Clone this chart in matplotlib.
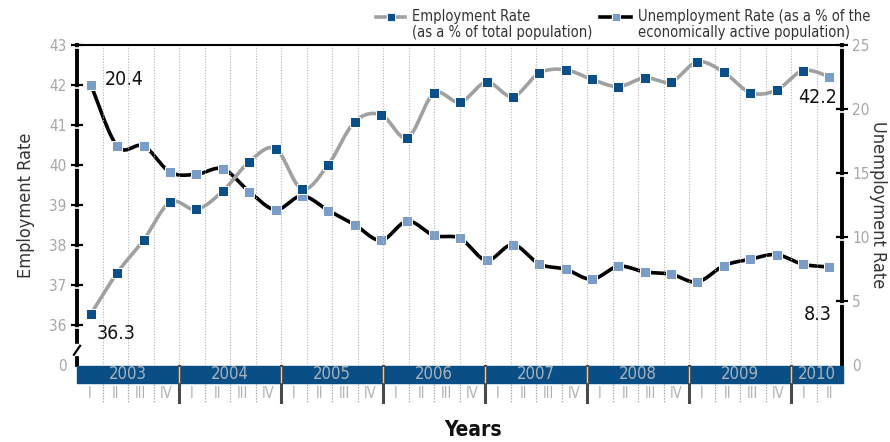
import numpy as np
import matplotlib
matplotlib.use("Agg")
import matplotlib.pyplot as plt
from matplotlib import font_manager
from matplotlib.transforms import blended_transform_factory, ScaledTranslation
from matplotlib.lines import Line2D

# ---------------- data ----------------
years = ['2003', '2004', '2005', '2006', '2007', '2008', '2009', '2010']
quarters_per_year = [4, 4, 4, 4, 4, 4, 4, 2]
quarter_names = ['I', 'II', 'III', 'IV']

employment = [36.28, 37.31, 38.13, 39.07, 38.89, 39.35, 40.08, 40.41, 39.40, 40.01,
              41.08, 41.26, 40.68, 41.79, 41.57, 42.07, 41.71, 42.30, 42.38, 42.14,
              41.96, 42.18, 42.08, 42.58, 42.32, 41.81, 41.87, 42.36, 42.21]
unemployment = [21.86, 17.08, 17.11, 15.06, 14.90, 15.32, 13.55, 12.13, 13.21, 12.07,
                10.96, 9.74, 11.24, 10.12, 9.89, 8.18, 9.40, 7.89, 7.48, 6.70,
                7.71, 7.27, 7.09, 6.49, 7.76, 8.26, 8.62, 7.87, 7.66]

left_ticks = [36, 37, 38, 39, 40, 41, 42, 43]
right_ticks = [0, 5, 10, 15, 20, 25]
annotations = ['20.4', '36.3', '42.2', '8.3']

# ---------------- fonts ----------------
names = {(f.name, f.stretch) for f in font_manager.fontManager.ttflist}
fams = {f.name for f in font_manager.fontManager.ttflist}
if 'Liberation Sans Narrow' in fams:
    FONT = dict(family='Liberation Sans Narrow')
elif any(n == 'DejaVu Sans' and s == 'condensed' for n, s in names):
    FONT = dict(family='DejaVu Sans', stretch='condensed')
else:
    FONT = dict(family='DejaVu Sans')
plt.rcParams['font.family'] = FONT['family']
if 'stretch' in FONT:
    plt.rcParams['font.stretch'] = FONT['stretch']

# ---------------- colours ----------------
C_GRAYLINE = '#a0a0a0'
C_DARKMK = '#0b4f8a'
C_LIGHTMK = '#7a9cc8'
C_BAND = '#0a4e86'
C_TICKTXT = '#a6a6a6'
C_TXT = '#333333'

W, H = 890, 442
fig = plt.figure(figsize=(W / 100, H / 100), dpi=100)
L, R, T, B = 77, 842, 45, 365
ax = fig.add_axes([L / W, 1 - B / H, (R - L) / W, (B - T) / H])
ax2 = ax.twinx()
ax.set_zorder(ax2.get_zorder() + 1)
ax.patch.set_visible(False)

nq = sum(quarters_per_year)
ax.set_xlim(0, nq)
ax.set_ylim(35.0, 43.0)
ax2.set_ylim(0, 25)


def smooth(x, y, n=16):
    pts = np.column_stack([x, y])
    P = np.vstack([pts[0], pts, pts[-1]])
    out = []
    t = np.linspace(0, 1, n, endpoint=False)[:, None]
    for i in range(1, len(P) - 2):
        p0, p1, p2, p3 = P[i - 1], P[i], P[i + 1], P[i + 2]
        seg = 0.5 * ((2 * p1) + (-p0 + p2) * t + (2 * p0 - 5 * p1 + 4 * p2 - p3) * t ** 2
                     + (-p0 + 3 * p1 - 3 * p2 + p3) * t ** 3)
        out.append(seg)
    out.append(pts[-1:])
    s = np.vstack(out)
    return s[:, 0], s[:, 1]


xe = np.linspace(0.55, nq - 0.5, len(employment))
xu = np.linspace(0.55, nq - 0.5, len(unemployment))

# gridlines
for k in range(1, nq):
    ax.axvline(k, color='#b5b5b5', lw=0.8, ls=(0, (1, 1.5)), zorder=0)

# unemployment (right axis)
sx, sy = smooth(xu, unemployment)
ax2.plot(sx, sy, color='black', lw=2.6, solid_capstyle='round', zorder=2)
ax2.plot(xu, unemployment, ls='none', marker='s', ms=6.5, mfc=C_LIGHTMK,
         mec='white', mew=0.7, zorder=3)

# employment (left axis)
sx, sy = smooth(xe, employment)
ax.plot(sx, sy, color=C_GRAYLINE, lw=2.6, solid_capstyle='round', zorder=2)
ax.plot(xe[:-1], employment[:-1], ls='none', marker='s', ms=6.5, mfc=C_DARKMK,
        mec='white', mew=0.7, zorder=3)
ax.plot(xe[-1:], employment[-1:], ls='none', marker='s', ms=6.5, mfc=C_LIGHTMK,
        mec='white', mew=0.7, zorder=3)

# annotations
ax2.text(xu[0] + 0.55, unemployment[0] + 0.45, annotations[0], fontsize=14,
         color='#111111', ha='left', va='center')
ax.text(xe[0] + 0.2, employment[0] - 0.5, annotations[1], fontsize=14,
        color='#111111', ha='left', va='center')
ax.text(xe[-1] + 0.3, employment[-1] - 0.52, annotations[2], fontsize=14,
        color='#111111', ha='right', va='center')
ax2.text(xu[-1] + 0.1, unemployment[-1] - 3.7, annotations[3], fontsize=14,
         color='#111111', ha='right', va='center')

# axes styling
for a in (ax, ax2):
    a.spines['bottom'].set_visible(False)
    a.set_xticks([])
ax.spines['right'].set_visible(False)
ax.spines['left'].set_linewidth(2.8)
ax.spines['top'].set_linewidth(1.5)
ax2.spines['left'].set_visible(False)
ax2.spines['top'].set_visible(False)
ax2.spines['right'].set_linewidth(2.8)

ax.set_yticks([35.0] + left_ticks)
ax.set_yticklabels(['0'] + [str(v) for v in left_ticks])
ax.tick_params(axis='y', direction='inout', length=9, width=1.6, colors='black',
               labelcolor=C_TICKTXT, labelsize=11, pad=3)
ax.yaxis.get_major_ticks()[0].tick1line.set_visible(False)
ax2.set_yticks(right_ticks)
ax2.set_yticklabels([str(v) for v in right_ticks])
ax2.tick_params(axis='y', direction='inout', length=9, width=1.6, colors='black',
                labelcolor=C_TICKTXT, labelsize=11, pad=3)
ax2.yaxis.get_major_ticks()[0].tick2line.set_visible(False)

# small white gaps under the ticks
down = ScaledTranslation(0, -2.2 / 72, fig.dpi_scale_trans)
trl = blended_transform_factory(ax.transAxes, ax.transData) + down
for v in left_ticks:
    ax.add_line(Line2D([-0.004, 0.004], [v, v], color='white', lw=1.2,
                       transform=trl, clip_on=False, zorder=10))
trr = blended_transform_factory(ax2.transAxes, ax2.transData) + down
for v in right_ticks[1:]:
    ax2.add_line(Line2D([0.996, 1.004], [v, v], color='white', lw=1.2,
                        transform=trr, clip_on=False, zorder=10))

# axis break on the left spine
tra = ax.transAxes
ax.add_patch(plt.Rectangle((-0.006, 0.03), 0.012, 0.035, transform=tra,
                           color='white', clip_on=False, zorder=11))
ax.add_line(Line2D([-0.004, 0.004], [0.032, 0.06], color='black', lw=1.6,
                   transform=tra, clip_on=False, zorder=12))

ax.set_ylabel('Employment Rate', fontsize=13, color=C_TXT, va='center')
ax.yaxis.set_label_coords((26 - L) / (R - L), 0.5)
ax2.set_ylabel('Unemployment Rate', fontsize=13, color=C_TXT, rotation=270,
               va='center')
ax2.yaxis.set_label_coords((878 - L) / (R - L), 0.5)

# bottom band with years and quarters
trb = blended_transform_factory(ax.transData, ax.transAxes)
band_top, band_bot = -0.003, -0.056
ax.add_patch(plt.Rectangle((0, band_bot), nq + 0.05, band_top - band_bot,
                           transform=trb, color=C_BAND, clip_on=False, zorder=5))
start = 0
for yr, nqy in zip(years, quarters_per_year):
    ax.text(start + nqy / 2, (band_top + band_bot) / 2, yr, transform=trb,
            ha='center', va='center', fontsize=12, color='#a9b3bd',
            zorder=6, clip_on=False)
    for q in range(nqy):
        ax.text(start + q + 0.5, -0.088, quarter_names[q], transform=trb,
                ha='center', va='center', fontsize=10.5, color='#b3b3b3',
                clip_on=False)
        if q > 0:
            ax.add_line(Line2D([start + q] * 2, [band_bot - 0.003, -0.117],
                               color='#9a9a9a', lw=0.9, ls=(0, (1, 1.2)),
                               transform=trb, clip_on=False))
    if start > 0:
        ax.add_line(Line2D([start, start], [band_top, -0.117], color='#4a4a4a',
                           lw=2.2, transform=trb, clip_on=False, zorder=7))
        ax.add_line(Line2D([start, start], [band_top - 0.004, band_bot + 0.004],
                           color='#c9d2dc', lw=0.9, transform=trb,
                           clip_on=False, zorder=8))
    start += nqy

fig.text(473 / W, 1 - 430 / H, 'Years', ha='center', va='center', fontsize=15,
         fontweight='bold', color='#111111')

# legend
def legend_item(x0, x1, y, lcolor, mcolor, lines):
    xm = (x0 + x1) / 2
    fig.add_artist(Line2D([x0 / W, (xm - 6) / W], [1 - y / H] * 2, color=lcolor,
                          lw=2.6, transform=fig.transFigure))
    fig.add_artist(Line2D([(xm + 6) / W, x1 / W], [1 - y / H] * 2, color=lcolor,
                          lw=2.6, transform=fig.transFigure))
    fig.add_artist(Line2D([xm / W], [1 - y / H], ls='none', marker='s', ms=5.5,
                          mfc=mcolor, mec='white', mew=0.6,
                          transform=fig.transFigure))
    for i, s in enumerate(lines):
        fig.text((x1 + 7) / W, 1 - (y + 16 * i) / H, s, ha='left', va='center',
                 fontsize=10.5, color=C_TXT)


legend_item(376, 405, 17, C_GRAYLINE, C_DARKMK,
            ['Employment Rate', '(as a % of total population)'])
legend_item(600, 631, 17, 'black', C_LIGHTMK,
            ['Unemployment Rate (as a % of the', 'economically active population)'])

fig.savefig('out.png', dpi=100)
